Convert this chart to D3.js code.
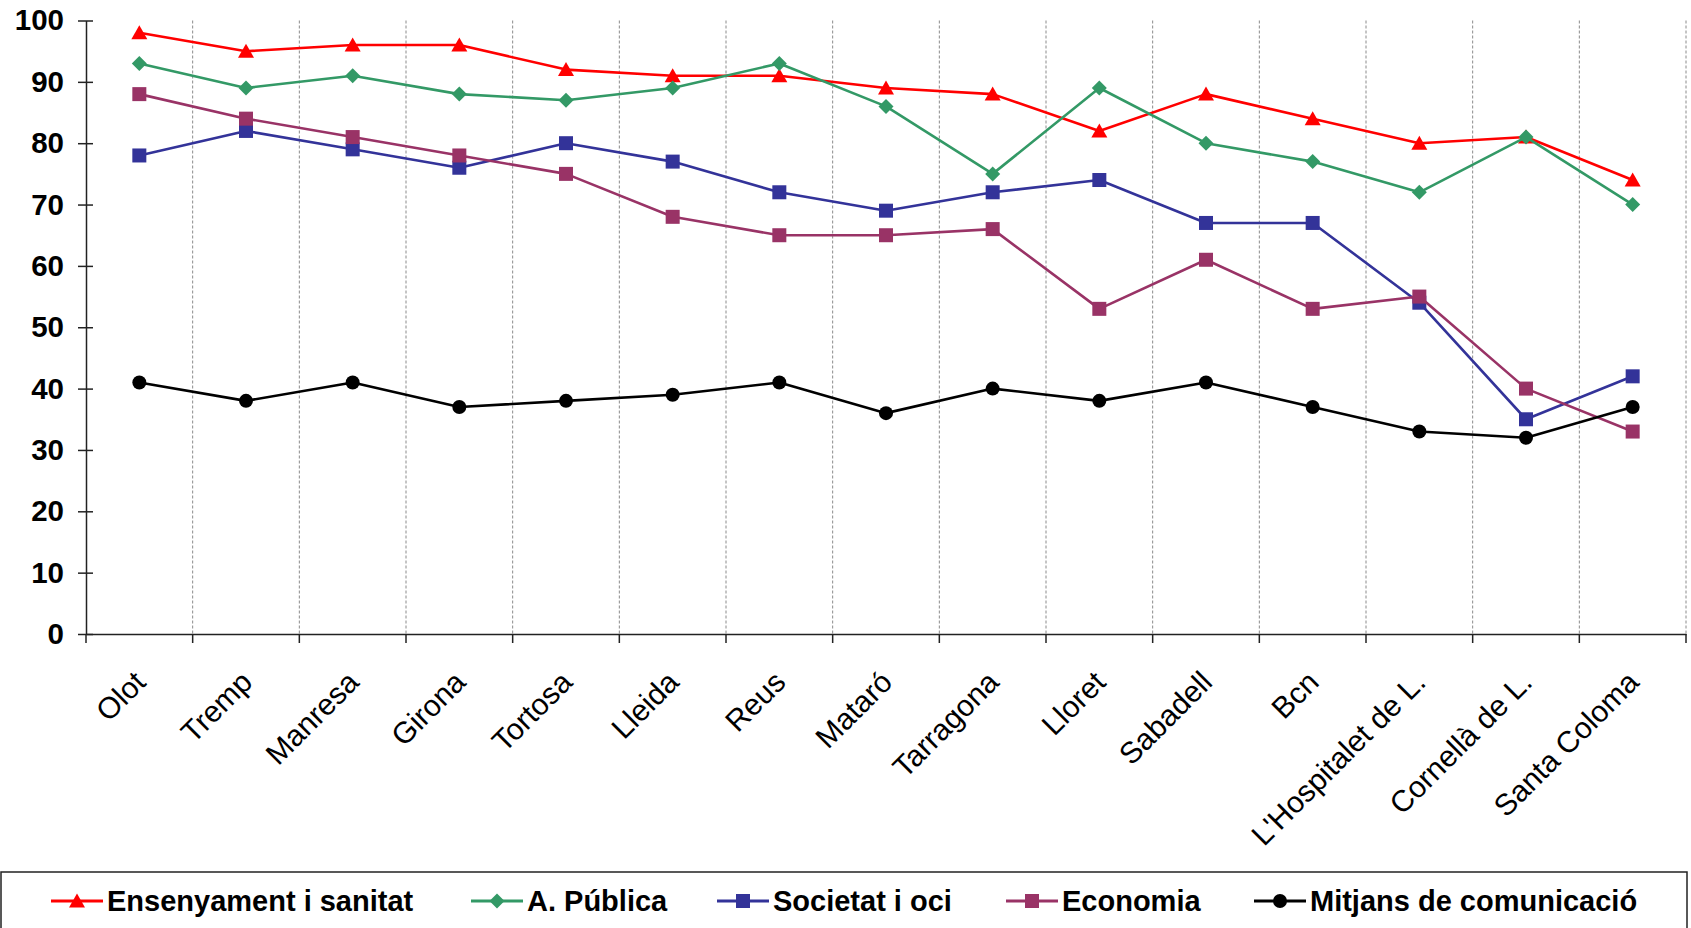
<!DOCTYPE html>
<html>
<head>
<meta charset="utf-8">
<script src="https://cdn.jsdelivr.net/npm/d3@7"></script>
<style>
html,body{margin:0;padding:0;background:#fff;}
svg{display:block;}
</style>
</head>
<body>
<svg id="chart" width="1691" height="928"></svg>
<script>
const categories = ["Olot","Tremp","Manresa","Girona","Tortosa","Lleida","Reus","Mataró","Tarragona","Lloret","Sabadell","Bcn","L'Hospitalet de L.","Cornellà de L.","Santa Coloma"];
const ensenyament = [98,95,96,96,92,91,91,89,88,82,88,84,80,81,74];
const aPublica    = [93,89,91,88,87,89,93,86,75,89,80,77,72,81,70];
const societat    = [78,82,79,76,80,77,72,69,72,74,67,67,54,35,42];
const economia    = [88,84,81,78,75,68,65,65,66,53,61,53,55,40,33];
const mitjans     = [41,38,41,37,38,39,41,36,40,38,41,37,33,32,37];
const seriesNames = ["Ensenyament i sanitat","A. Pública","Societat i oci","Economia","Mitjans de comunicació"];
const yTicks = [0,10,20,30,40,50,60,70,80,90,100];

const series = [
  {name: seriesNames[0], values: ensenyament, color: "#FF0000", marker: "triangle"},
  {name: seriesNames[1], values: aPublica,    color: "#339966", marker: "diamond"},
  {name: seriesNames[2], values: societat,    color: "#333399", marker: "square"},
  {name: seriesNames[3], values: economia,    color: "#993366", marker: "square"},
  {name: seriesNames[4], values: mitjans,     color: "#000000", marker: "circle"}
];

const svg = d3.select("#chart");
const L = 86, R = 1686, T = 20.5, B = 634;

const x = d3.scaleBand().domain(categories).range([L, R]).padding(0);
const y = d3.scaleLinear().domain([0, 100]).range([B, T]);

// dashed vertical gridlines at category boundaries
const bounds = categories.slice(1).map(c => x(c)).concat([R]);
svg.append("g").selectAll("line").data(bounds).join("line")
  .attr("x1", d => d).attr("x2", d => d)
  .attr("y1", y(100)).attr("y2", B)
  .attr("stroke", "#8a8a8a").attr("stroke-width", 1)
  .attr("stroke-dasharray", "3,2");

// y axis
const yAxis = svg.append("g").attr("transform", `translate(${L},0)`)
  .call(d3.axisLeft(y).tickValues(yTicks).tickSizeInner(8).tickSizeOuter(0).tickPadding(13));
yAxis.select(".domain").attr("stroke", "#222").attr("stroke-width", 1.5);
yAxis.selectAll(".tick line").attr("x2", 7).attr("x1", -8).attr("stroke", "#222").attr("stroke-width", 1.5);
yAxis.selectAll(".tick text").attr("font-family", "Liberation Sans, Arial, sans-serif")
  .attr("font-size", 29.5).attr("font-weight", "bold").attr("fill", "#000").attr("dx", "-1");

// x axis
const xAxis = svg.append("g").attr("transform", `translate(0,${B})`)
  .call(d3.axisBottom(x).tickSize(0).tickPadding(0));
xAxis.select(".domain").attr("stroke", "#222").attr("stroke-width", 1.5);
xAxis.selectAll(".tick text")
  .attr("font-family", "Liberation Sans, Arial, sans-serif")
  .attr("font-size", 30).attr("fill", "#000")
  .attr("text-anchor", "end")
  .attr("transform", `translate(8,50) rotate(-45)`)
  .attr("x", 0).attr("y", 0).attr("dy", 0);
// boundary ticks
svg.append("g").selectAll("line").data([L].concat(bounds)).join("line")
  .attr("x1", d => d).attr("x2", d => d)
  .attr("y1", B).attr("y2", B + 9)
  .attr("stroke", "#222").attr("stroke-width", 1.5);

// markers
function marker(sel, type, color) {
  if (type === "circle") {
    sel.append("circle").attr("r", 7).attr("fill", color);
  } else if (type === "triangle") {
    sel.append("path").attr("d", "M0,-7.5L8,6.5L-8,6.5Z").attr("fill", color);
  } else if (type === "diamond") {
    sel.append("path").attr("d", "M0,-7.5L7.5,0L0,7.5L-7.5,0Z").attr("fill", color);
  } else {
    sel.append("rect").attr("x", -7).attr("y", -7).attr("width", 14).attr("height", 14).attr("fill", color);
  }
}

const line = d3.line().x((d, i) => x(categories[i]) + x.bandwidth()/2).y(d => y(d));

series.forEach(s => {
  const g = svg.append("g");
  g.append("path").datum(s.values).attr("d", line)
    .attr("fill", "none").attr("stroke", s.color).attr("stroke-width", 2.6)
    .attr("stroke-linejoin", "round");
  g.selectAll("g.m").data(s.values).join("g").attr("class", "m")
    .attr("transform", (d, i) => `translate(${x(categories[i]) + x.bandwidth()/2},${y(d)})`)
    .each(function() { marker(d3.select(this), s.marker, s.color); });
});

// legend
svg.append("rect").attr("x", 1).attr("y", 872).attr("width", 1686).attr("height", 60)
  .attr("fill", "none").attr("stroke", "#222").attr("stroke-width", 1.5);
const legX = [51, 471, 717, 1006, 1254];
series.forEach((s, i) => {
  const g = svg.append("g").attr("transform", `translate(${legX[i]},901)`);
  g.append("line").attr("x1", 0).attr("x2", 52).attr("y1", 0).attr("y2", 0)
    .attr("stroke", s.color).attr("stroke-width", 3);
  const m = g.append("g").attr("transform", "translate(26,0)");
  marker(m, s.marker, s.color);
  g.append("text").attr("x", 56).attr("y", 10)
    .attr("font-family", "Liberation Sans, Arial, sans-serif")
    .attr("font-size", 29).attr("font-weight", "bold").attr("fill", "#000")
    .text(s.name);
});
</script>
</body>
</html>
